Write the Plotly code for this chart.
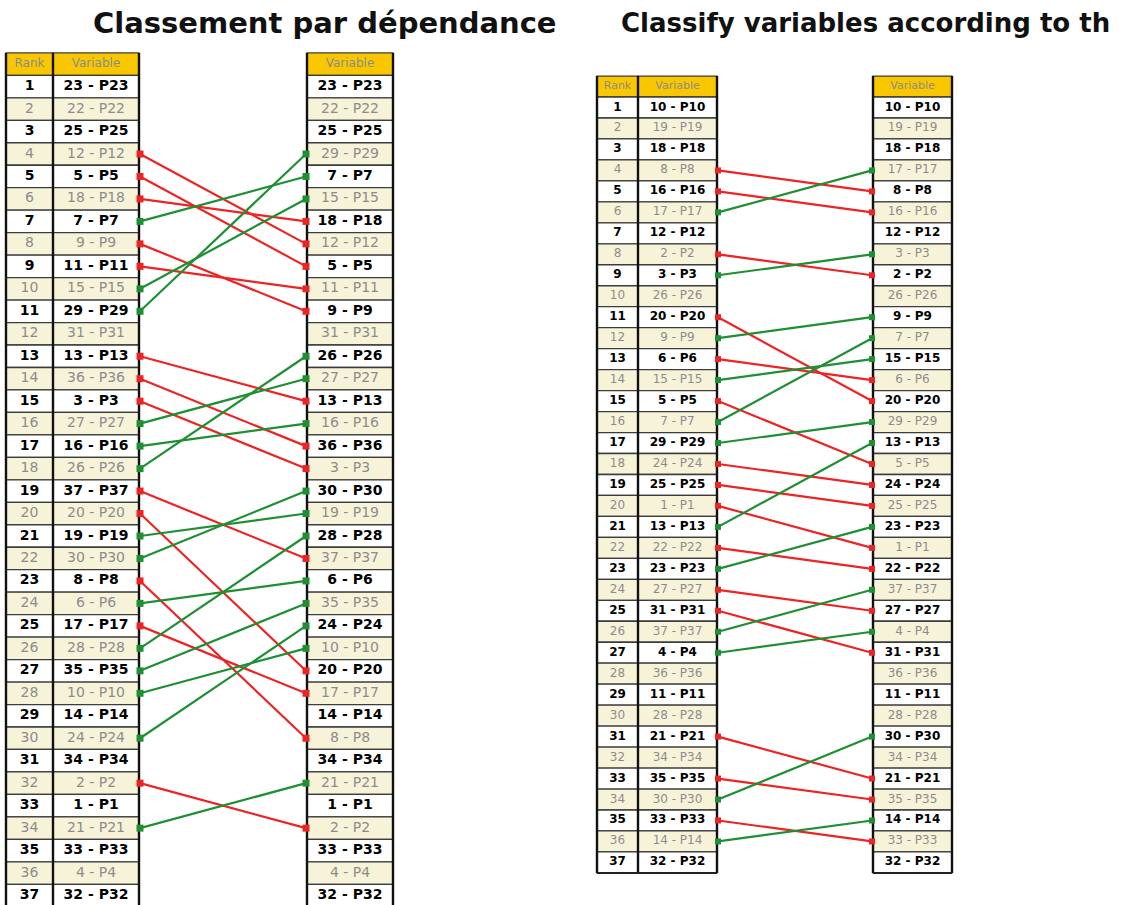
import plotly.graph_objects as go

# ---------------- Data ----------------
ranks = list(range(1, 38))

# Left panel: "Classement par dépendance" (variable number per rank)
dep_before = [23, 22, 25, 12, 5, 18, 7, 9, 11, 15, 29, 31, 13, 36, 3, 27, 16, 26, 37,
              20, 19, 30, 8, 6, 17, 28, 35, 10, 14, 24, 34, 2, 1, 21, 33, 4, 32]
dep_after = [23, 22, 25, 29, 7, 15, 18, 12, 5, 11, 9, 31, 26, 27, 13, 16, 36, 3, 30,
             19, 28, 37, 6, 35, 24, 10, 20, 17, 14, 8, 34, 21, 1, 2, 33, 4, 32]

# Right panel: "Classify variables according to th..." (title cut in the source)
cls_before = [10, 19, 18, 8, 16, 17, 12, 2, 3, 26, 20, 9, 6, 15, 5, 7, 29, 24, 25,
              1, 13, 22, 23, 27, 31, 37, 4, 36, 11, 28, 21, 34, 35, 30, 33, 14, 32]
cls_after = [10, 19, 18, 17, 8, 16, 12, 3, 2, 26, 9, 7, 15, 6, 20, 29, 13, 5, 24,
             25, 23, 1, 22, 37, 27, 4, 31, 36, 11, 28, 30, 34, 21, 35, 14, 33, 32]

header_rank = "Rank"
header_var = "Variable"
title_left = "Classement par dépendance"
title_right = "Classify variables according to th"

# ---------------- Style ----------------
W, H = 1128, 905
FONT = "DejaVu Sans"
GOLD = "#F8C700"
CREAM = "#F7F3D9"
RED = "#EC2424"
GREEN = "#1F8F33"
GRAY_TXT = "#8C8C8C"


def label(v):
    return f"{v} - P{v}"


panels = [
    dict(before=dep_before, after=dep_after, yaxis="y", yref="y",
         rank=(6, 53), var=(53, 139), var2=(307, 393), fs=14, hfs=12, ms=7),
    dict(before=cls_before, after=cls_after, yaxis="y2", yref="y2",
         rank=(597, 638), var=(638, 717), var2=(873, 952), fs=12, hfs=11, ms=6),
]

fig = go.Figure()
shapes = []

for p in panels:
    yref = p["yref"]
    cols = [p["rank"], p["var"], p["var2"]]
    n = len(ranks)
    # cells
    for r in [0] + ranks:
        fill = GOLD if r == 0 else ("white" if r % 2 == 1 else CREAM)
        for c in cols:
            shapes.append(dict(type="rect", xref="x", yref=yref, layer="below",
                               x0=c[0], x1=c[1], y0=r - 0.5, y1=r + 0.5,
                               fillcolor=fill, line=dict(color="#3C3C3C", width=1.3)))
    # thick vertical borders
    for xv in [p["rank"][0], p["rank"][1], p["var"][1], p["var2"][0], p["var2"][1]]:
        shapes.append(dict(type="line", xref="x", yref=yref, layer="below",
                           x0=xv, x1=xv, y0=-0.5, y1=n + 0.5,
                           line=dict(color="#111111", width=2.4)))
    # bottom line
    for c0, c1 in [(p["rank"][0], p["var"][1]), p["var2"]]:
        shapes.append(dict(type="line", xref="x", yref=yref, layer="below",
                           x0=c0, x1=c1, y0=n + 0.5, y1=n + 0.5,
                           line=dict(color="#222222", width=2)))

    # connecting lines
    pos_after = {v: i + 1 for i, v in enumerate(p["after"])}
    for i, v in enumerate(p["before"]):
        r0 = i + 1
        r1 = pos_after[v]
        if r0 == r1:
            continue
        col = RED if r1 > r0 else GREEN
        fig.add_trace(go.Scatter(
            x=[p["var"][1] + 1, p["var2"][0] - 1], y=[r0, r1], yaxis=p["yaxis"],
            mode="lines+markers", line=dict(color=col, width=2.2),
            marker=dict(symbol="square", size=p["ms"], color=col),
            hoverinfo="skip", showlegend=False))

    # header text
    hdr_x = [(p["rank"][0] + p["rank"][1]) / 2, (p["var"][0] + p["var"][1]) / 2,
             (p["var2"][0] + p["var2"][1]) / 2]
    fig.add_trace(go.Scatter(
        x=hdr_x, y=[0, 0, 0], yaxis=p["yaxis"], mode="text",
        text=[header_rank, header_var, header_var],
        textfont=dict(family=FONT, size=p["hfs"], color=GRAY_TXT),
        hoverinfo="skip", showlegend=False))

    # row text: odd rows bold black, even rows normal gray
    for parity, weight, color in [(1, "bold", "#000000"), (0, "normal", GRAY_TXT)]:
        rr = [r for r in ranks if r % 2 == parity]
        xs, ys, ts = [], [], []
        for r in rr:
            xs += [hdr_x[0], hdr_x[1], hdr_x[2]]
            ys += [r, r, r]
            ts += [str(r), label(p["before"][r - 1]), label(p["after"][r - 1])]
        fig.add_trace(go.Scatter(
            x=xs, y=ys, yaxis=p["yaxis"], mode="text", text=ts,
            textfont=dict(family=FONT, size=p["fs"], color=color, weight=weight),
            hoverinfo="skip", showlegend=False))


# axis ranges: rank r placed at pixel c1 + (r-1)*h
def yrange(c1, h):
    return [1 + (H - c1) / h, 1 - c1 / h]


fig.update_layout(
    width=W, height=H,
    margin=dict(l=0, r=0, t=0, b=0),
    paper_bgcolor="white", plot_bgcolor="white",
    showlegend=False,
    shapes=shapes,
    xaxis=dict(range=[0, W], visible=False, fixedrange=True),
    yaxis=dict(range=yrange(86.6, 22.47), visible=False, fixedrange=True),
    yaxis2=dict(range=yrange(107.5, 20.97), visible=False, fixedrange=True,
                overlaying="y"),
    annotations=[
        dict(text=f"<b>{title_left}</b>", x=325, xref="x", y=1 - 23 / H, yref="paper",
             xanchor="center", yanchor="middle", showarrow=False,
             font=dict(family=FONT, size=29, color="#111111")),
        dict(text=f"<b>{title_right}</b>", x=619, xref="x", y=1 - 23 / H, yref="paper",
             xanchor="left", yanchor="middle", showarrow=False,
             font=dict(family=FONT, size=26, color="#111111")),
    ],
)

fig.write_html("out.html", config={"displayModeBar": False},
               post_script="document.body.style.margin='0';document.body.style.overflow='hidden';")
